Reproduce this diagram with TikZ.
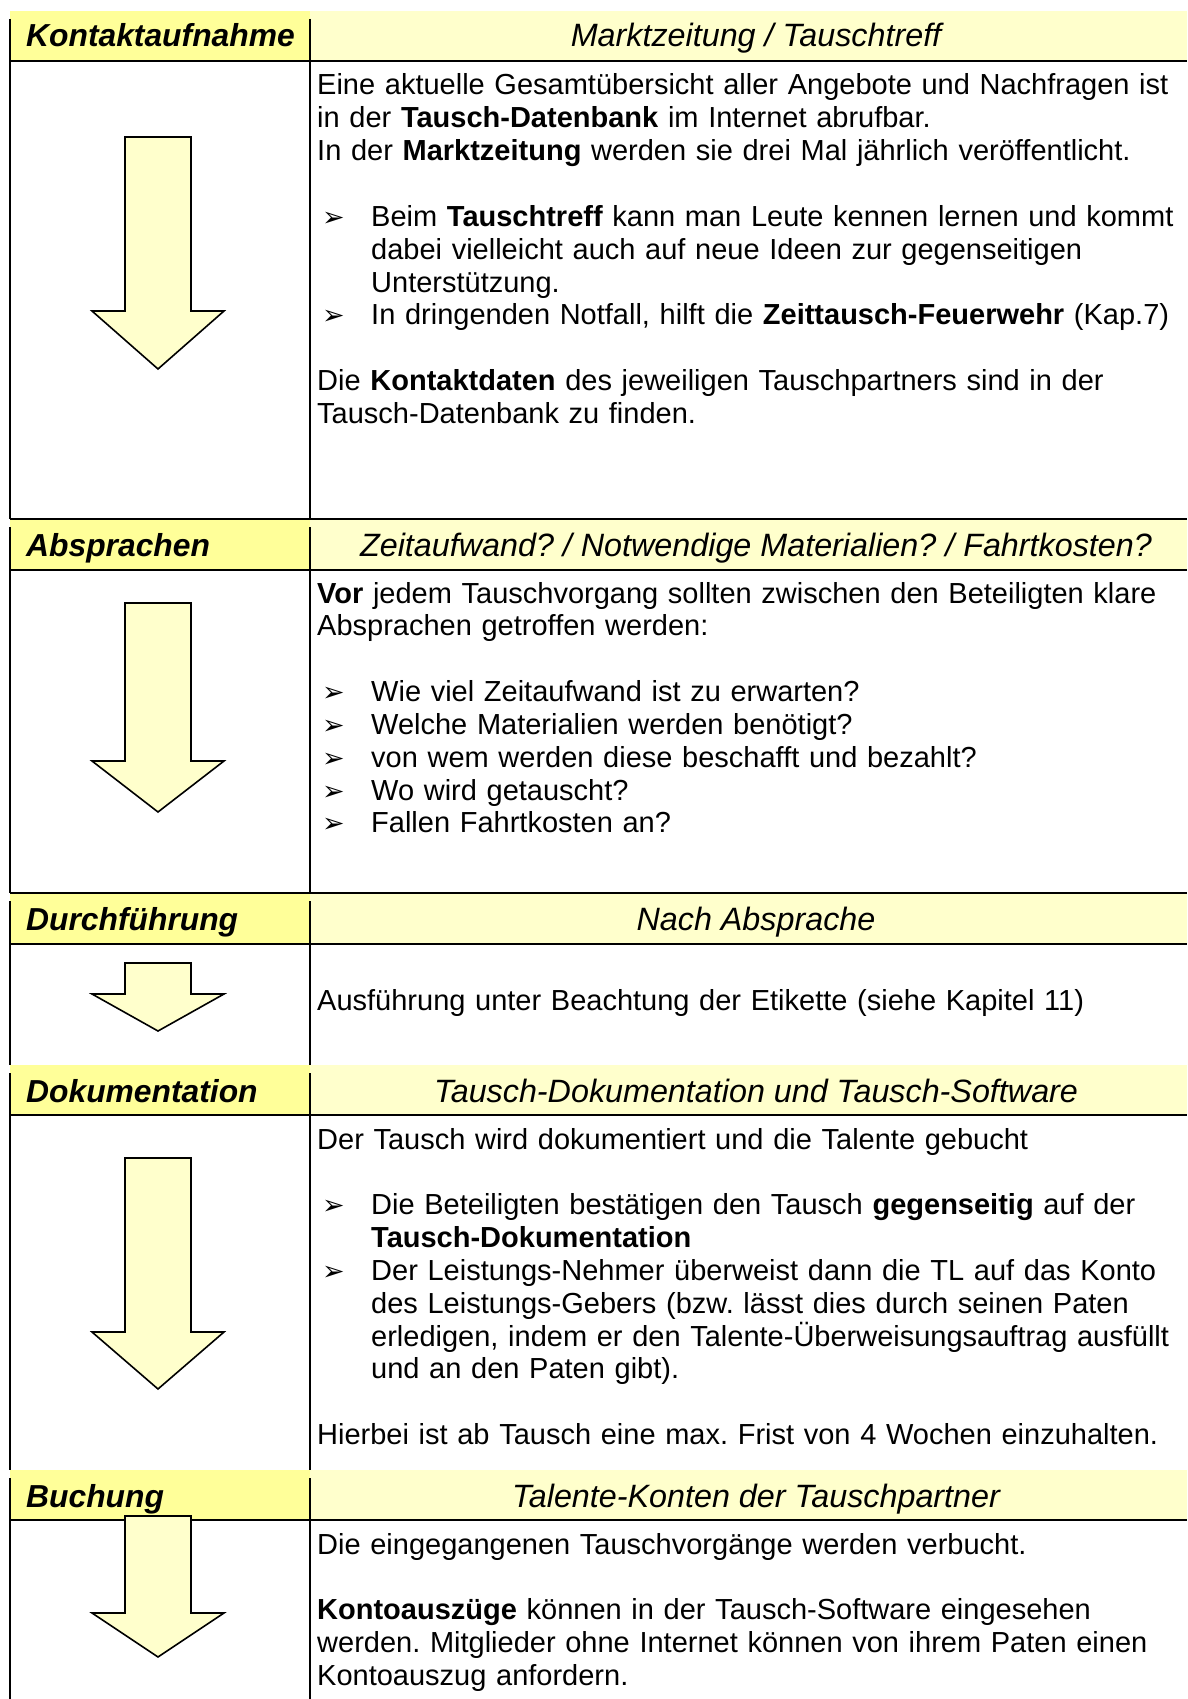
\documentclass[tikz,border=0pt]{standalone}
\usepackage{fontspec}
\setmainfont{Liberation Sans}
\newfontfamily\dejavu{DejaVu Sans}
\frenchspacing

\definecolor{hdrleft}{HTML}{FFFF99}
\definecolor{hdrright}{HTML}{FFFFCC}
\definecolor{arrowfill}{HTML}{FFFFCC}

\newcommand\bul{\makebox[54pt][l]{\hspace{5pt}{\dejavu\fontsize{27}{27}\selectfont ➢}}}
\newcommand\ind{\hspace*{54pt}}
% block arrow: top, shoulder, tip
\newcommand\flowarrow[3]{\draw[arrowshape] (125,#1) -- (191,#1) -- (191,#2)
  -- (224,#2) -- (158,#3) -- (92,#2) -- (125,#2) -- cycle;}

\tikzset{
  hdrtxt/.style={inner sep=0pt,anchor=base west,
    font=\fontsize{31.8}{38}\selectfont\bfseries\itshape},
  subtxt/.style={inner sep=0pt,anchor=base,
    font=\fontsize{32.3}{38}\selectfont\itshape},
  bodytxt/.style={inner sep=0pt,anchor=base west,text width=1000pt,
    align=left,font=\fontsize{29}{32.85}\selectfont},
  arrowshape/.style={draw=black,fill=arrowfill,line width=1.6pt},
  rule/.style={line width=1.6pt}
}

\begin{document}
\begin{tikzpicture}[x=1pt,y=-1pt]
  \useasboundingbox (0,0) rectangle (1187,1699);
  % header shading
  \fill[hdrleft] (10,11) rectangle (310,61);
  \fill[hdrright] (310,11) rectangle (1187,61);
  \fill[hdrleft] (10,520) rectangle (310,570);
  \fill[hdrright] (310,520) rectangle (1187,570);
  \fill[hdrleft] (10,894) rectangle (310,944);
  \fill[hdrright] (310,894) rectangle (1187,944);
  \fill[hdrleft] (10,1065) rectangle (310,1115);
  \fill[hdrright] (310,1065) rectangle (1187,1115);
  \fill[hdrleft] (10,1470) rectangle (310,1520);
  \fill[hdrright] (310,1470) rectangle (1187,1520);
  % table rules
  \draw[rule] (10,19) -- (10,519) (310,19) -- (310,519);
  \draw[rule] (10,527) -- (10,893) (310,527) -- (310,893);
  \draw[rule] (10,901) -- (10,1065) (310,901) -- (310,1065);
  \draw[rule] (10,1073) -- (10,1470) (310,1073) -- (310,1470);
  \draw[rule] (10,1478) -- (10,1699) (310,1478) -- (310,1699);
  \draw[rule] (10,61) -- (1187,61) (10,519) -- (1187,519)
    (10,570) -- (1187,570) (10,893) -- (1187,893)
    (10,944) -- (1187,944) (10,1115) -- (1187,1115)
    (10,1520) -- (1187,1520);
  % arrows
  \flowarrow{137}{311}{369}
  \flowarrow{603}{761}{812}
  \flowarrow{963}{994}{1031}
  \flowarrow{1158}{1332}{1389}
  \flowarrow{1516}{1613}{1657}
  % headers
  \node[hdrtxt] (hdrA) at (26,47) {Kontaktaufnahme};
  \node[subtxt] (subA) at (756,47) {Marktzeitung / Tauschtreff};
  \node[hdrtxt] (hdrB) at (26,556) {Absprachen};
  \node[subtxt] (subB) at (756,556)
    {Zeitaufwand? / Notwendige Materialien? / Fahrtkosten?};
  \node[hdrtxt] (hdrC) at (26,930) {Durchführung};
  \node[subtxt] (subC) at (756,930) {Nach Absprache};
  \node[hdrtxt] (hdrD) at (26,1102) {Dokumentation};
  \node[subtxt] (subD) at (756,1102)
    {Tausch-Dokumentation und Tausch-Software};
  \node[hdrtxt] (hdrE) at (26,1507) {Buchung};
  \node[subtxt] (subE) at (756,1507) {Talente-Konten der Tauschpartner};
  % cell texts
  \node[bodytxt] (bodyA) at (317,95) {%
    Eine aktuelle Gesamtübersicht aller Angebote und Nachfragen ist\\
    in der \textbf{Tausch-Datenbank} im Internet abrufbar.\\
    In der \textbf{Marktzeitung} werden sie drei Mal jährlich veröffentlicht.\\
    \mbox{}\\
    \bul Beim \textbf{Tauschtreff} kann man Leute kennen lernen und kommt\\
    \ind dabei vielleicht auch auf neue Ideen zur gegenseitigen\\
    \ind Unterstützung.\\
    \bul In dringenden Notfall, hilft die \textbf{Zeittausch-Feuerwehr} (Kap.7)\\
    \mbox{}\\
    Die \textbf{Kontaktdaten} des jeweiligen Tauschpartners sind in der\\
    Tausch-Datenbank zu finden.};
  \node[bodytxt] (bodyB) at (317,603) {%
    \textbf{Vor} jedem Tauschvorgang sollten zwischen den Beteiligten klare\\
    Absprachen getroffen werden:\\
    \mbox{}\\
    \bul Wie viel Zeitaufwand ist zu erwarten?\\
    \bul Welche Materialien werden benötigt?\\
    \bul von wem werden diese beschafft und bezahlt?\\
    \bul Wo wird getauscht?\\
    \bul Fallen Fahrtkosten an?};
  \node[bodytxt] (bodyC) at (317,1010)
    {Ausführung unter Beachtung der Etikette (siehe Kapitel 11)};
  \node[bodytxt] (bodyD) at (317,1149) {%
    Der Tausch wird dokumentiert und die Talente gebucht\\
    \mbox{}\\
    \bul Die Beteiligten bestätigen den Tausch \textbf{gegenseitig} auf der\\
    \ind\textbf{Tausch-Dokumentation}\\
    \bul Der Leistungs-Nehmer überweist dann die TL auf das Konto\\
    \ind des Leistungs-Gebers (bzw. lässt dies durch seinen Paten\\
    \ind erledigen, indem er den Talente-Überweisungsauftrag ausfüllt\\
    \ind und an den Paten gibt).\\
    \mbox{}\\
    Hierbei ist ab Tausch eine max. Frist von 4 Wochen einzuhalten.};
  \node[bodytxt] (bodyE) at (317,1554) {%
    Die eingegangenen Tauschvorgänge werden verbucht.\\
    \mbox{}\\
    \textbf{Kontoauszüge} können in der Tausch-Software eingesehen\\
    werden. Mitglieder ohne Internet können von ihrem Paten einen\\
    Kontoauszug anfordern.};
\end{tikzpicture}
\end{document}
